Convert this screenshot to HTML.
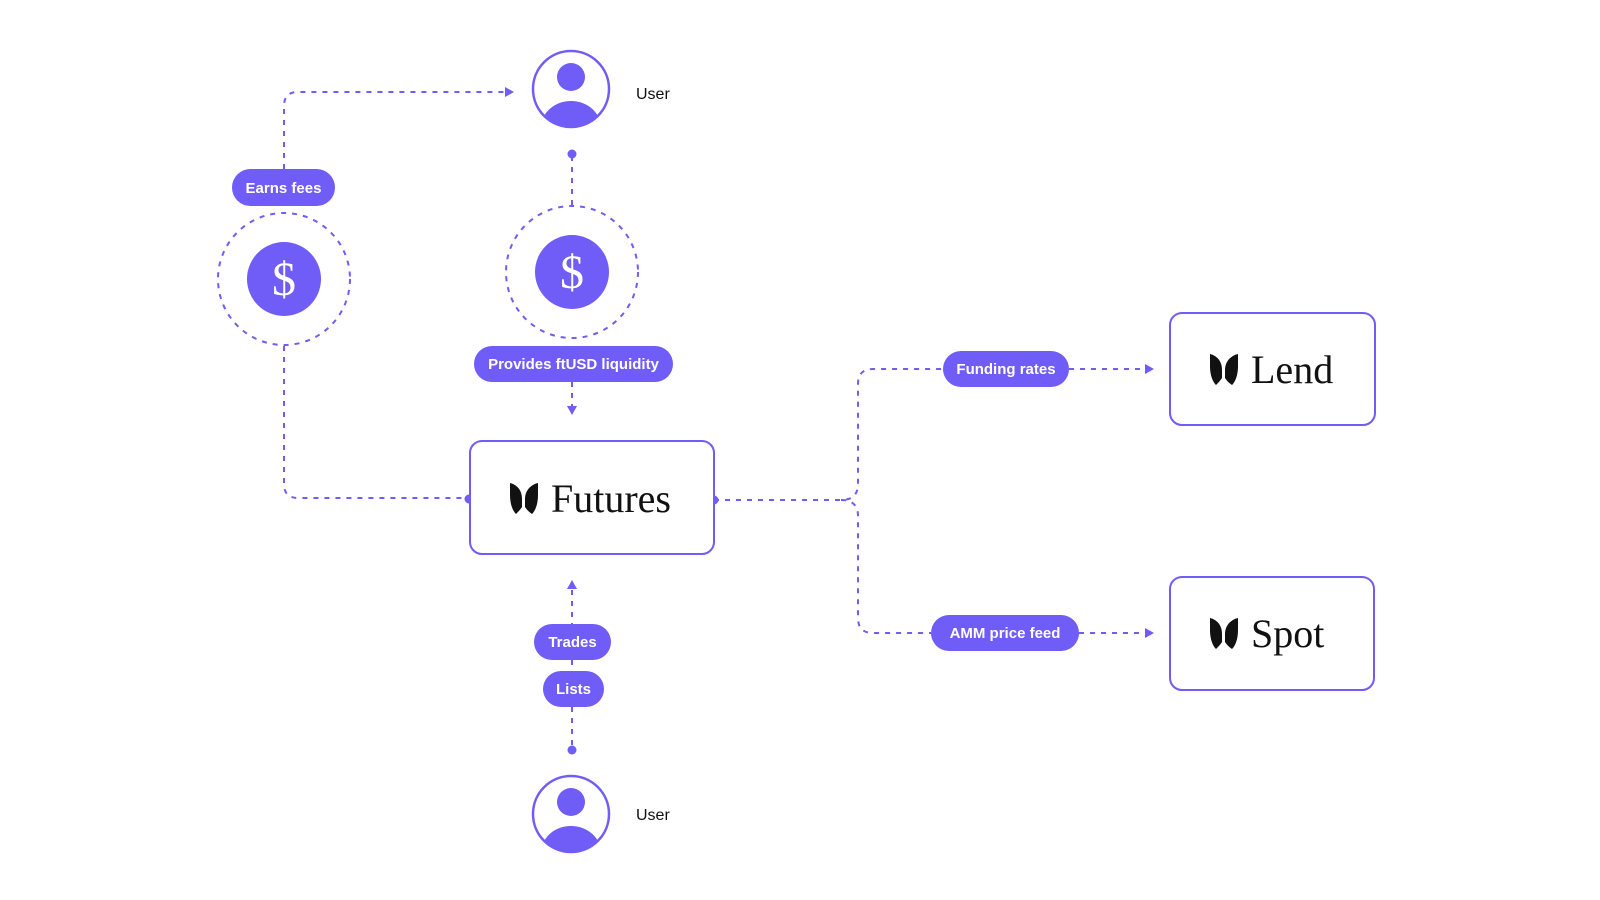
<!DOCTYPE html>
<html><head><meta charset="utf-8"><style>
html,body{margin:0;padding:0;background:#fff;}
svg{display:block}
.pt{font-family:"Liberation Sans",sans-serif;font-weight:bold;font-size:15px;fill:#fff;}
.lb{font-family:"Liberation Sans",sans-serif;font-size:16px;fill:#111;}
.sv{font-family:"Liberation Serif",serif;font-size:40px;fill:#111;}
</style></head><body>
<svg width="1600" height="900" viewBox="0 0 1600 900" xmlns="http://www.w3.org/2000/svg">
<defs>
<g id="logo"><path d="M0,0 C8,2 12,8 12,16 L12,24 C10,27 8,29 6,31 C2,27 0,20 0,12 Z" fill="#111"/><path d="M28,0 C20,2 15,8 15,16 L15,24 C17,27 19,29 22,31 C26,27 28,20 28,12 Z" fill="#111"/></g>
</defs>
<g fill="none" stroke="#705cf6" stroke-width="2" stroke-dasharray="5 6">
<path d="M284,169 L284,106 Q284,92 298,92 L505,92"/>
<path d="M284,346 L284,484 Q284,498 298,498 L467,498"/>
<path d="M572,156 L572,206"/>
<path d="M572,382 L572,408"/>
<path d="M714,500 L841,500 Q858,500 858,484 L858,384 Q858,369 873,369 L943,369"/>
<path d="M1069,369 L1145,369"/>
<path d="M841,500 Q858,500 858,516 L858,618 Q858,633 873,633 L931,633"/>
<path d="M1079,633 L1145,633"/>
<path d="M572,590 L572,624"/>
<path d="M572,660 L572,671"/>
<path d="M572,707 L572,748"/>
<circle cx="284" cy="279" r="66"/>
<circle cx="572" cy="272" r="66"/>
</g>
<g fill="#705cf6">
<path d="M505,87 L514,92 L505,97 Z"/>
<path d="M567,406 L577,406 L572,415 Z"/>
<path d="M1145,364 L1154,369 L1145,374 Z"/>
<path d="M1145,628 L1154,633 L1145,638 Z"/>
<path d="M567,589 L577,589 L572,580 Z"/>
<circle cx="572" cy="154" r="4.5"/>
<circle cx="572" cy="750" r="4.5"/>
<circle cx="469" cy="499" r="4.5"/>
<circle cx="714" cy="500" r="4.5"/>
<circle cx="284" cy="279" r="37"/>
<circle cx="572" cy="272" r="37"/>
<rect x="232" y="169" width="103" height="37" rx="18.5"/>
<rect x="474" y="346" width="199" height="36" rx="18"/>
<rect x="943" y="351" width="126" height="36" rx="18"/>
<rect x="931" y="615" width="148" height="36" rx="18"/>
<rect x="534" y="624" width="77" height="36" rx="18"/>
<rect x="543" y="671" width="61" height="36" rx="18"/>
</g>
<text x="284" y="295" text-anchor="middle" font-family="Liberation Serif,serif" font-size="48" fill="#fff">$</text>
<text x="572" y="288" text-anchor="middle" font-family="Liberation Serif,serif" font-size="48" fill="#fff">$</text>
<text class="pt" x="283.5" y="193" text-anchor="middle">Earns fees</text>
<text class="pt" x="573.5" y="369" text-anchor="middle">Provides ftUSD liquidity</text>
<text class="pt" x="1006" y="374" text-anchor="middle">Funding rates</text>
<text class="pt" x="1005" y="638" text-anchor="middle">AMM price feed</text>
<text class="pt" x="572.5" y="647" text-anchor="middle">Trades</text>
<text class="pt" x="573.5" y="694" text-anchor="middle">Lists</text>
<g>
<clipPath id="c1"><circle cx="571" cy="89" r="38"/></clipPath>
<circle cx="571" cy="89" r="38" fill="#fff" stroke="#705cf6" stroke-width="2.5"/>
<circle cx="571" cy="77" r="14" fill="#705cf6"/>
<ellipse cx="571" cy="128" rx="30" ry="27" fill="#705cf6" clip-path="url(#c1)"/>
</g>
<g>
<clipPath id="c2"><circle cx="571" cy="814" r="38"/></clipPath>
<circle cx="571" cy="814" r="38" fill="#fff" stroke="#705cf6" stroke-width="2.5"/>
<circle cx="571" cy="802" r="14" fill="#705cf6"/>
<ellipse cx="571" cy="853" rx="30" ry="27" fill="#705cf6" clip-path="url(#c2)"/>
</g>
<text class="lb" x="636" y="99">User</text>
<text class="lb" x="636" y="820">User</text>
<g fill="#fff" stroke="#705cf6" stroke-width="2">
<rect x="470" y="441" width="244" height="113" rx="12"/>
<rect x="1170" y="313" width="205" height="112" rx="12"/>
<rect x="1170" y="577" width="204" height="113" rx="12"/>
</g>
<use href="#logo" x="510" y="483"/>
<text class="sv" x="551" y="512">Futures</text>
<use href="#logo" x="1210" y="354"/>
<text class="sv" x="1251" y="383">Lend</text>
<use href="#logo" x="1210" y="618"/>
<text class="sv" x="1251" y="647">Spot</text>
</svg>
</body></html>
